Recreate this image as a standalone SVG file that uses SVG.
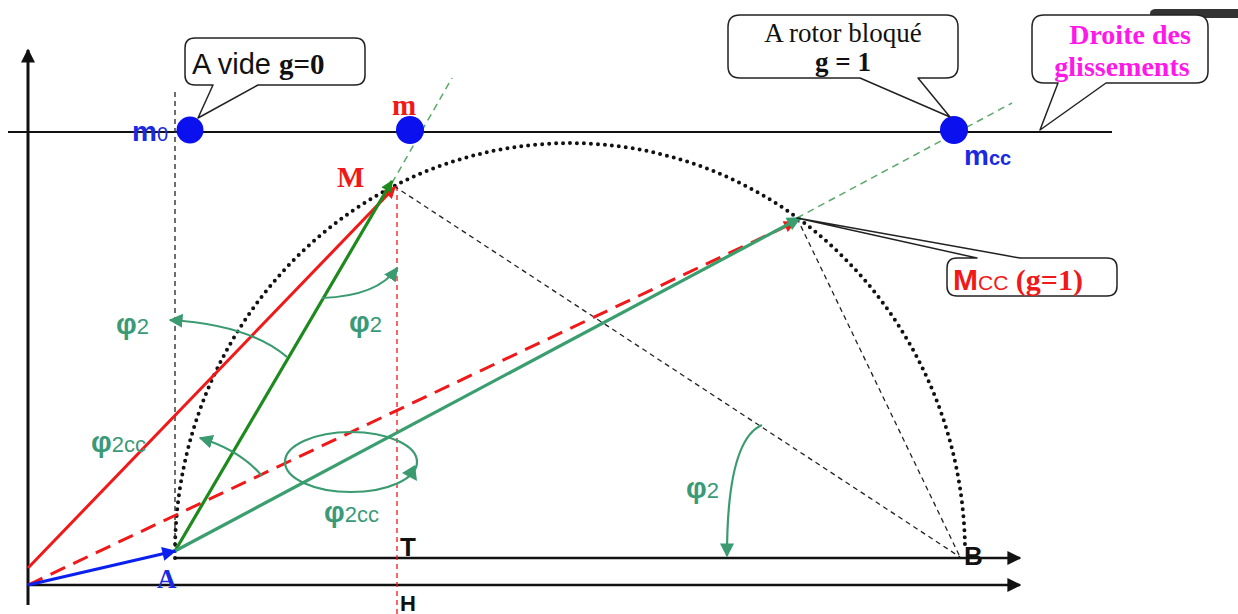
<svg xmlns="http://www.w3.org/2000/svg" width="1238" height="614" viewBox="0 0 1238 614">
<defs>
<style>
.ax{stroke:#111;stroke-width:2.5;fill:none}
.blkdash{stroke:#222;stroke-width:1.3;stroke-dasharray:5 4;fill:none}
.reddash{stroke:#f01818;stroke-width:1.3;stroke-dasharray:5 4;fill:none}
.grndash{stroke:#5aa86a;stroke-width:1.5;stroke-dasharray:7 5;fill:none}
.arc{stroke:#3a9a70;stroke-width:2.2;fill:none}
.callout{fill:#fff;stroke:#222;stroke-width:1.5;stroke-linejoin:round}
.phi{font-family:"Liberation Sans",Arial,sans-serif;font-weight:bold;fill:#3a9a78;font-size:29px}
.sub{font-weight:normal;font-size:22px}
</style>
<marker id="ahK" viewBox="0 0 10 10" refX="9" refY="5" markerWidth="15" markerHeight="14" markerUnits="userSpaceOnUse" orient="auto"><path d="M0,0 L10,5 L0,10 z" fill="#111"/></marker>
<marker id="ahB" viewBox="0 0 10 10" refX="9" refY="5" markerWidth="16" markerHeight="14" markerUnits="userSpaceOnUse" orient="auto"><path d="M0,0 L10,5 L0,10 z" fill="#0a20ee"/></marker>
<marker id="ahR" viewBox="0 0 10 10" refX="9" refY="5" markerWidth="14" markerHeight="12" markerUnits="userSpaceOnUse" orient="auto"><path d="M0,0 L10,5 L0,10 z" fill="#f01818"/></marker>
<marker id="ahG" viewBox="0 0 10 10" refX="9" refY="5" markerWidth="14" markerHeight="12" markerUnits="userSpaceOnUse" orient="auto"><path d="M0,0 L10,5 L0,10 z" fill="#1c8a1c"/></marker>
<marker id="ahS" viewBox="0 0 10 10" refX="9" refY="5" markerWidth="16" markerHeight="14" markerUnits="userSpaceOnUse" orient="auto"><path d="M0,0 L10,5 L0,10 z" fill="#3a9e6e"/></marker>
<marker id="ahA" viewBox="0 0 10 10" refX="9" refY="5" markerWidth="14" markerHeight="14" markerUnits="userSpaceOnUse" orient="auto"><path d="M0,0 L10,5 L0,10 z" fill="#3a9a70"/></marker>
</defs>
<rect width="1238" height="614" fill="#fff"/>
<path d="M1156,9 L1238,9 L1238,18 L1156,18 Q1150,18 1150,13.5 Q1150,9 1156,9 z" fill="#333"/>

<g id="connectors">
<line class="ax" x1="28" y1="605" x2="28" y2="50" marker-end="url(#ahK)" style="stroke-width:3"/>
<line class="ax" x1="8" y1="132" x2="1112" y2="132" style="stroke-width:2"/>
<line class="ax" x1="28" y1="585" x2="1020" y2="585" marker-end="url(#ahK)"/>
<line class="ax" x1="175" y1="558" x2="1020" y2="558" marker-end="url(#ahK)"/>
<path d="M175,558 A395,410 0 0 1 965,548" fill="none" stroke="#111" stroke-width="4" stroke-linecap="round" stroke-dasharray="0 7"/>
<line class="blkdash" x1="175" y1="92" x2="175" y2="551"/>
<line class="reddash" x1="397" y1="186" x2="397" y2="614"/>
<line class="blkdash" x1="394" y1="186" x2="960" y2="557"/>
<line class="blkdash" x1="797" y1="218" x2="960" y2="557"/>
<line class="grndash" x1="392" y1="183" x2="452" y2="78"/>
<line class="grndash" x1="797" y1="218" x2="1012" y2="103"/>
<line x1="28" y1="568" x2="395" y2="187" stroke="#f01818" stroke-width="3" marker-end="url(#ahR)"/>
<line x1="28" y1="585" x2="795" y2="222" stroke="#f01818" stroke-width="3" stroke-dasharray="16 9" marker-end="url(#ahR)"/>
<line x1="175" y1="551" x2="392" y2="181" stroke="#1c8a1c" stroke-width="3.2" marker-end="url(#ahG)"/>
<line x1="175" y1="551" x2="800" y2="218" stroke="#3a9e6e" stroke-width="3.2" marker-end="url(#ahS)"/>
<line x1="28" y1="585" x2="175" y2="551" stroke="#0a20ee" stroke-width="3" marker-end="url(#ahB)"/>
<path class="arc" d="M287,357 Q250,325 170,320" marker-end="url(#ahA)"/>
<path class="arc" d="M322,298 Q378,296 397,268" marker-end="url(#ahA)"/>
<path class="arc" d="M262,476 Q240,450 200,438" marker-end="url(#ahA)"/>
<ellipse class="arc" cx="351" cy="462" rx="66" ry="30"/>
<polygon points="402,473 415,465 417,481" fill="#3a9a70"/>
<path class="arc" d="M762,425 Q727,440 727,556" marker-end="url(#ahA)"/>
</g>

<g id="dots">
<circle cx="190" cy="130" r="13.5" fill="#0a10ee"/>
<circle cx="410" cy="130" r="14" fill="#0a10ee"/>
<circle cx="954" cy="130" r="14" fill="#0a10ee"/>
</g>

<g id="callout-vide">
<path class="callout" d="M195,38 L355,38 Q365,38 365,48 L365,75 Q365,85 355,85 L258,85 L198,118 L213,85 L195,85 Q185,85 185,75 L185,48 Q185,38 195,38 z"/>
<text x="192" y="74" font-size="29" fill="#111"><tspan font-family="'Liberation Sans', Arial, sans-serif">A vide </tspan><tspan font-family="'Liberation Serif', 'Times New Roman', serif" font-weight="bold">g=0</tspan></text>
</g>

<g id="callout-bloque">
<path class="callout" d="M740,15 L946,15 Q958,15 958,27 L958,66 Q958,78 946,78 L918,78 L950,117 L860,78 L740,78 Q728,78 728,66 L728,27 Q728,15 740,15 z"/>
<text x="843" y="42" text-anchor="middle" font-family="'Liberation Serif', 'Times New Roman', serif" font-size="27" fill="#111">A rotor bloqué</text>
<text x="843" y="71" text-anchor="middle" font-family="'Liberation Serif', 'Times New Roman', serif" font-size="27" font-weight="bold" fill="#111">g = 1</text>
</g>

<g id="callout-droite">
<path class="callout" d="M1044,15 L1196,15 Q1208,15 1208,27 L1208,71 Q1208,83 1196,83 L1106,83 L1040,130 L1058,83 L1044,83 Q1032,83 1032,71 L1032,27 Q1032,15 1044,15 z"/>
<text x="1130" y="44" text-anchor="middle" font-family="'Liberation Serif', 'Times New Roman', serif" font-size="28" font-weight="bold" fill="#ff18e8">Droite des</text>
<text x="1122" y="76" text-anchor="middle" font-family="'Liberation Serif', 'Times New Roman', serif" font-size="28" font-weight="bold" fill="#ff18e8">glissements</text>
</g>

<g id="callout-mcc">
<path class="callout" d="M957,258 L977,258 L797,218 L1020,258 L1107,258 Q1117,258 1117,268 L1117,286 Q1117,296 1107,296 L957,296 Q947,296 947,286 L947,268 Q947,258 957,258 z"/>
<text x="953" y="290" font-size="30" fill="#f01818" font-weight="bold"><tspan font-family="'Liberation Sans', Arial, sans-serif">M</tspan><tspan font-family="'Liberation Sans', Arial, sans-serif" font-size="21" font-weight="normal">CC</tspan><tspan font-family="'Liberation Serif', 'Times New Roman', serif"> (g=1)</tspan></text>
</g>

<g id="labels" font-weight="bold">
<text x="132" y="141" font-family="'Liberation Sans', Arial, sans-serif" font-size="28" fill="#1a2ae0">m<tspan font-size="20" font-weight="normal">0</tspan></text>
<text x="392" y="115" font-family="'Liberation Serif', 'Times New Roman', serif" font-size="29" fill="#f01818">m</text>
<text x="337" y="187" font-family="'Liberation Serif', 'Times New Roman', serif" font-size="29" fill="#f01818">M</text>
<text x="964" y="165" font-family="'Liberation Sans', Arial, sans-serif" font-size="28" fill="#1a2ae0">m<tspan font-size="20">cc</tspan></text>
<text x="157" y="588" font-family="'Liberation Serif', 'Times New Roman', serif" font-size="27" fill="#1a2ae0">A</text>
<text x="400" y="556" font-family="'Liberation Sans', Arial, sans-serif" font-size="26" fill="#111">T</text>
<text x="400" y="611" font-family="'Liberation Sans', Arial, sans-serif" font-size="22" fill="#111">H</text>
<text x="964" y="565" font-family="'Liberation Sans', Arial, sans-serif" font-size="26" fill="#111">B</text>
<text x="116" y="334" class="phi">φ<tspan class="sub">2</tspan></text>
<text x="349" y="332" class="phi">φ<tspan class="sub">2</tspan></text>
<text x="91" y="452" class="phi">φ<tspan class="sub">2cc</tspan></text>
<text x="324" y="522" class="phi">φ<tspan class="sub">2cc</tspan></text>
<text x="686" y="498" class="phi">φ<tspan class="sub">2</tspan></text>
</g>
</svg>
